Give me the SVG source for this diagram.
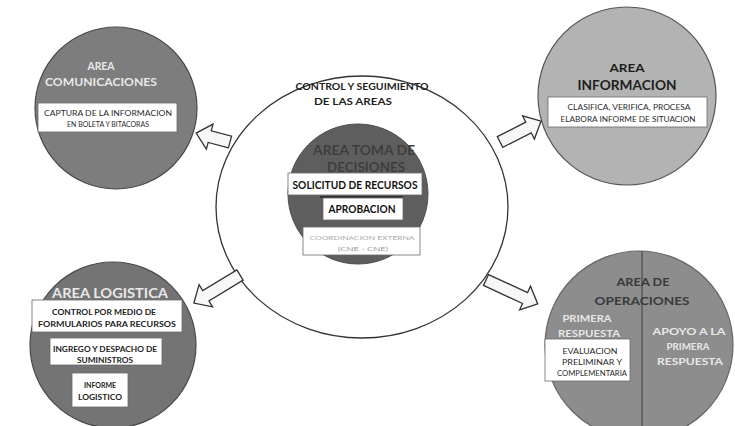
<svg xmlns="http://www.w3.org/2000/svg" width="735" height="426" viewBox="0 0 735 426">
<style>
text{font-family:Lato,"Open Sans","Liberation Sans",sans-serif;text-anchor:middle;}
.b{font-weight:bold;}
.lt{fill:#e8e8e8;font-weight:bold;}
.dk{fill:#1e1e1e;}
.box{fill:#ffffff;stroke:#6a6a6a;stroke-width:0.8;}
.sm{font-size:7.5px;fill:#2a2a2a;}
.arrow{fill:#f7f7f7;stroke:#333333;stroke-width:1.3;stroke-linejoin:miter;}
</style>
<rect width="735" height="426" fill="#ffffff"/>

<g id="central">
  <ellipse cx="362" cy="207" rx="146" ry="131" fill="#ffffff" stroke="#333333" stroke-width="1.3"/>
  <text x="362" y="90" class="b dk" font-size="10" textLength="133" lengthAdjust="spacingAndGlyphs">CONTROL Y SEGUIMIENTO</text>
  <text x="353" y="105" class="b dk" font-size="10" textLength="78" lengthAdjust="spacingAndGlyphs">DE LAS AREAS</text>
</g>

<g id="toma-decisiones">
  <circle cx="358" cy="194" r="70" fill="#5e5e5e" stroke="#505050" stroke-width="1"/>
  <text x="364" y="155" class="b" fill="#3e3e3e" font-size="14" textLength="102" lengthAdjust="spacingAndGlyphs">AREA TOMA DE</text>
  <text x="366" y="172" class="b" fill="#3e3e3e" font-size="14" textLength="78" lengthAdjust="spacingAndGlyphs">DECISIONES</text>
  <rect x="288" y="173" width="134" height="22" class="box"/>
  <text x="355" y="189" class="b" fill="#111" font-size="11" textLength="125" lengthAdjust="spacingAndGlyphs">SOLICITUD DE RECURSOS</text>
  <line x1="320" y1="197" x2="403" y2="197" stroke="#222" stroke-width="1.5"/>
  <rect x="323" y="198" width="80" height="22" class="box"/>
  <text x="362" y="213" class="b" fill="#111" font-size="11" textLength="67" lengthAdjust="spacingAndGlyphs">APROBACION</text>
  <rect x="303" y="227" width="117" height="28" class="box"/>
  <text x="362" y="240" fill="#a8a8a8" font-size="6.5" textLength="105" lengthAdjust="spacingAndGlyphs">COORDINACION EXTERNA</text>
  <text x="363" y="251" fill="#9a9a9a" font-size="6.5" textLength="50" lengthAdjust="spacingAndGlyphs">(CNE - CNE)</text>
</g>

<g id="comunicaciones">
  <circle cx="116" cy="108" r="81" fill="#7d7d7d" stroke="#4a4a4a" stroke-width="1.2"/>
  <text x="101" y="70" class="lt" font-size="11" textLength="27" lengthAdjust="spacingAndGlyphs">AREA</text>
  <text x="101" y="86" class="lt" font-size="12" textLength="112" lengthAdjust="spacingAndGlyphs">COMUNICACIONES</text>
  <rect x="38" y="103" width="139" height="29" class="box"/>
  <text x="108" y="116" class="sm" textLength="128" lengthAdjust="spacingAndGlyphs">CAPTURA DE LA INFORMACION</text>
  <text x="108" y="127" class="sm" textLength="82" lengthAdjust="spacingAndGlyphs">EN BOLETA Y BITACORAS</text>
</g>

<g id="informacion">
  <circle cx="627" cy="96" r="89" fill="#b3b3b3" stroke="#555555" stroke-width="1.2"/>
  <text x="627" y="72" class="b dk" font-size="12" textLength="35" lengthAdjust="spacingAndGlyphs">AREA</text>
  <text x="627" y="90" class="b dk" font-size="13" textLength="99" lengthAdjust="spacingAndGlyphs">INFORMACION</text>
  <rect x="548" y="97" width="159" height="30" class="box"/>
  <text x="629" y="110" class="sm" textLength="123" lengthAdjust="spacingAndGlyphs">CLASIFICA, VERIFICA, PROCESA</text>
  <text x="628" y="122" class="sm" textLength="135" lengthAdjust="spacingAndGlyphs">ELABORA INFORME DE SITUACION</text>
</g>

<g id="logistica">
  <circle cx="113" cy="345" r="83" fill="#747474" stroke="#4a4a4a" stroke-width="1.2"/>
  <text x="110" y="298" class="lt" font-size="12.5" textLength="116" lengthAdjust="spacingAndGlyphs">AREA LOGISTICA</text>
  <rect x="32" y="300" width="150" height="32" class="box"/>
  <text x="104" y="315" class="b" fill="#222" font-size="8" textLength="104" lengthAdjust="spacingAndGlyphs">CONTROL POR MEDIO DE</text>
  <text x="107" y="327" class="b" fill="#222" font-size="8" textLength="138" lengthAdjust="spacingAndGlyphs">FORMULARIOS PARA RECURSOS</text>
  <rect x="50" y="338" width="112" height="27" class="box"/>
  <text x="105" y="352" class="b" fill="#222" font-size="8" textLength="104" lengthAdjust="spacingAndGlyphs">INGREGO Y DESPACHO DE</text>
  <text x="105" y="363" class="b" fill="#222" font-size="8" textLength="56" lengthAdjust="spacingAndGlyphs">SUMINISTROS</text>
  <rect x="72" y="373" width="56" height="34" class="box"/>
  <text x="100" y="388" class="b" fill="#222" font-size="8" textLength="32" lengthAdjust="spacingAndGlyphs">INFORME</text>
  <text x="100" y="400" class="b" fill="#222" font-size="8" textLength="44" lengthAdjust="spacingAndGlyphs">LOGISTICO</text>
</g>

<g id="operaciones">
  <circle cx="639" cy="345" r="94" fill="#8d8d8d" stroke="#666666" stroke-width="1.2"/>
  <line x1="642" y1="251" x2="642" y2="426" stroke="#3a3a3a" stroke-width="1"/>
  <text x="643" y="286" class="b" fill="#3a3a3a" font-size="12" textLength="53" lengthAdjust="spacingAndGlyphs">AREA DE</text>
  <text x="642" y="305" class="b" fill="#3a3a3a" font-size="12" textLength="95" lengthAdjust="spacingAndGlyphs">OPERACIONES</text>
  <text x="587" y="322" class="lt" font-size="10" textLength="49" lengthAdjust="spacingAndGlyphs">PRIMERA</text>
  <text x="589" y="337" class="lt" font-size="10" textLength="62" lengthAdjust="spacingAndGlyphs">RESPUESTA</text>
  <text x="689" y="335" class="lt" font-size="10" textLength="73" lengthAdjust="spacingAndGlyphs">APOYO A LA</text>
  <text x="688" y="350" class="lt" font-size="10" textLength="43" lengthAdjust="spacingAndGlyphs">PRIMERA</text>
  <text x="690" y="365" class="lt" font-size="10" textLength="66" lengthAdjust="spacingAndGlyphs">RESPUESTA</text>
  <rect x="545" y="339" width="85" height="42" class="box"/>
  <text x="590" y="354" class="sm" font-size="7" textLength="55" lengthAdjust="spacingAndGlyphs">EVALUACION</text>
  <text x="592" y="365" class="sm" font-size="7" textLength="60" lengthAdjust="spacingAndGlyphs">PRELIMINAR Y</text>
  <text x="592" y="376" class="sm" font-size="7" textLength="70" lengthAdjust="spacingAndGlyphs">COMPLEMENTARIA</text>
</g>

<g id="connectors">
  <path class="arrow" transform="translate(230,142) rotate(194.8)" d="M0,-6 H21 V-13 L35,0 L21,13 V6 H0 Z"/>
  <path class="arrow" transform="translate(500,142) rotate(-27)" d="M0,-6 H32 V-13 L46,0 L32,13 V6 H0 Z"/>
  <path class="arrow" transform="translate(240,275) rotate(148.7)" d="M0,-6 H40 V-13 L54,0 L40,13 V6 H0 Z"/>
  <path class="arrow" transform="translate(486,280) rotate(24.8)" d="M0,-6 H43 V-13 L57,0 L43,13 V6 H0 Z"/>
</g>
</svg>
